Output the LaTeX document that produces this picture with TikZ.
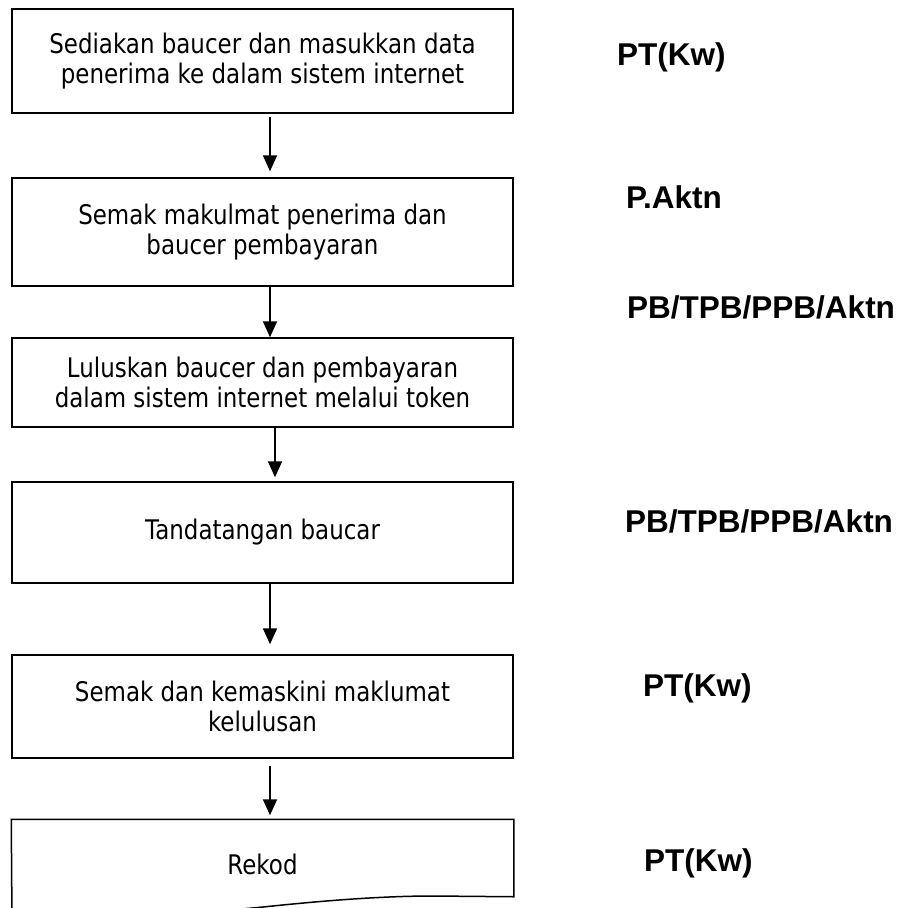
\documentclass[tikz,border=0pt]{standalone}
\usepackage{fontspec}
\newfontfamily\boxfont{DejaVu Sans}[FakeStretch=0.85]
\newfontfamily\rolefont{Liberation Sans}
\usetikzlibrary{arrows.meta}

\begin{document}
\begin{tikzpicture}[
    x=1pt, y=-1pt,          % one unit = one pixel of the page
    stage/.style={
        draw=black,
        line width=1.5pt,
        rectangle,
        minimum width=501pt,
        align=center,
        inner sep=0pt,
        font=\boxfont\fontsize{27pt}{30pt}\selectfont
    },
    role/.style={
        anchor=base west,
        inner sep=0pt,
        font=\rolefont\bfseries\fontsize{31.5pt}{36pt}\selectfont
    },
    flow arrow/.style={
        draw=black,
        line width=2pt,
        -{Triangle[length=16pt, width=14pt]}
    }
]
    \useasboundingbox (0,0) rectangle (902,908);
    \clip (0,0) rectangle (902,908);

        \node[stage, minimum height=104pt] (sedia) at (262.5,61) {Sediakan baucer dan masukkan data\\penerima ke dalam sistem internet};
        \node[stage, minimum height=108pt] (semak) at (262.5,232) {Semak makulmat penerima dan\\baucer pembayaran};
        \node[stage, minimum height=89pt] (lulus) at (262.5,382.5) {Luluskan baucer dan pembayaran\\dalam sistem internet melalui token};
        \node[stage, minimum height=101pt] (tanda) at (262.5,532.5) {Tandatangan baucar};
        \node[stage, minimum height=103pt] (kemas) at (262.5,706.5) {Semak dan kemaskini maklumat\\kelulusan};
        \node[stage, draw=none, minimum height=88pt] (rekod) at (262.5,864) {Rekod};

        \node[role] (ptkw1) at (617,65) {PT(Kw)};
        \node[role] (paktn) at (626,208) {P.Aktn};
        \node[role] (pb1) at (627,318) {PB/TPB/PPB/Aktn};
        \node[role] (pb2) at (625,532) {PB/TPB/PPB/Aktn};
        \node[role] (ptkw2) at (643,696) {PT(Kw)};
        \node[role] (ptkw3) at (644,871) {PT(Kw)};

    % document shape of the last box
    \draw[line width=1.5pt] (12,921) -- (rekod.north west) -- (rekod.north east)
        -- ([yshift=12pt]rekod.south east) -- (433,896)
        .. controls (380,896) and (320,901) .. (263,907)
        .. controls (190,914) and (90,921) .. (12,921);

    \draw[flow arrow, shorten <=3pt, shorten >=6pt] ([xshift=7.5pt]sedia.south) -- ([xshift=7.5pt]semak.north);
    \draw[flow arrow] ([xshift=7.5pt]semak.south) -- ([xshift=7.5pt]lulus.north);
    \draw[flow arrow, shorten >=4pt] ([xshift=12.5pt]lulus.south) -- ([xshift=12.5pt]tanda.north);
    \draw[flow arrow, shorten >=10pt] ([xshift=7.5pt]tanda.south) -- ([xshift=7.5pt]kemas.north);
    \draw[flow arrow, shorten <=7pt, shorten >=4pt] ([xshift=7.5pt]kemas.south) -- ([xshift=7.5pt]rekod.north);
\end{tikzpicture}
\end{document}
